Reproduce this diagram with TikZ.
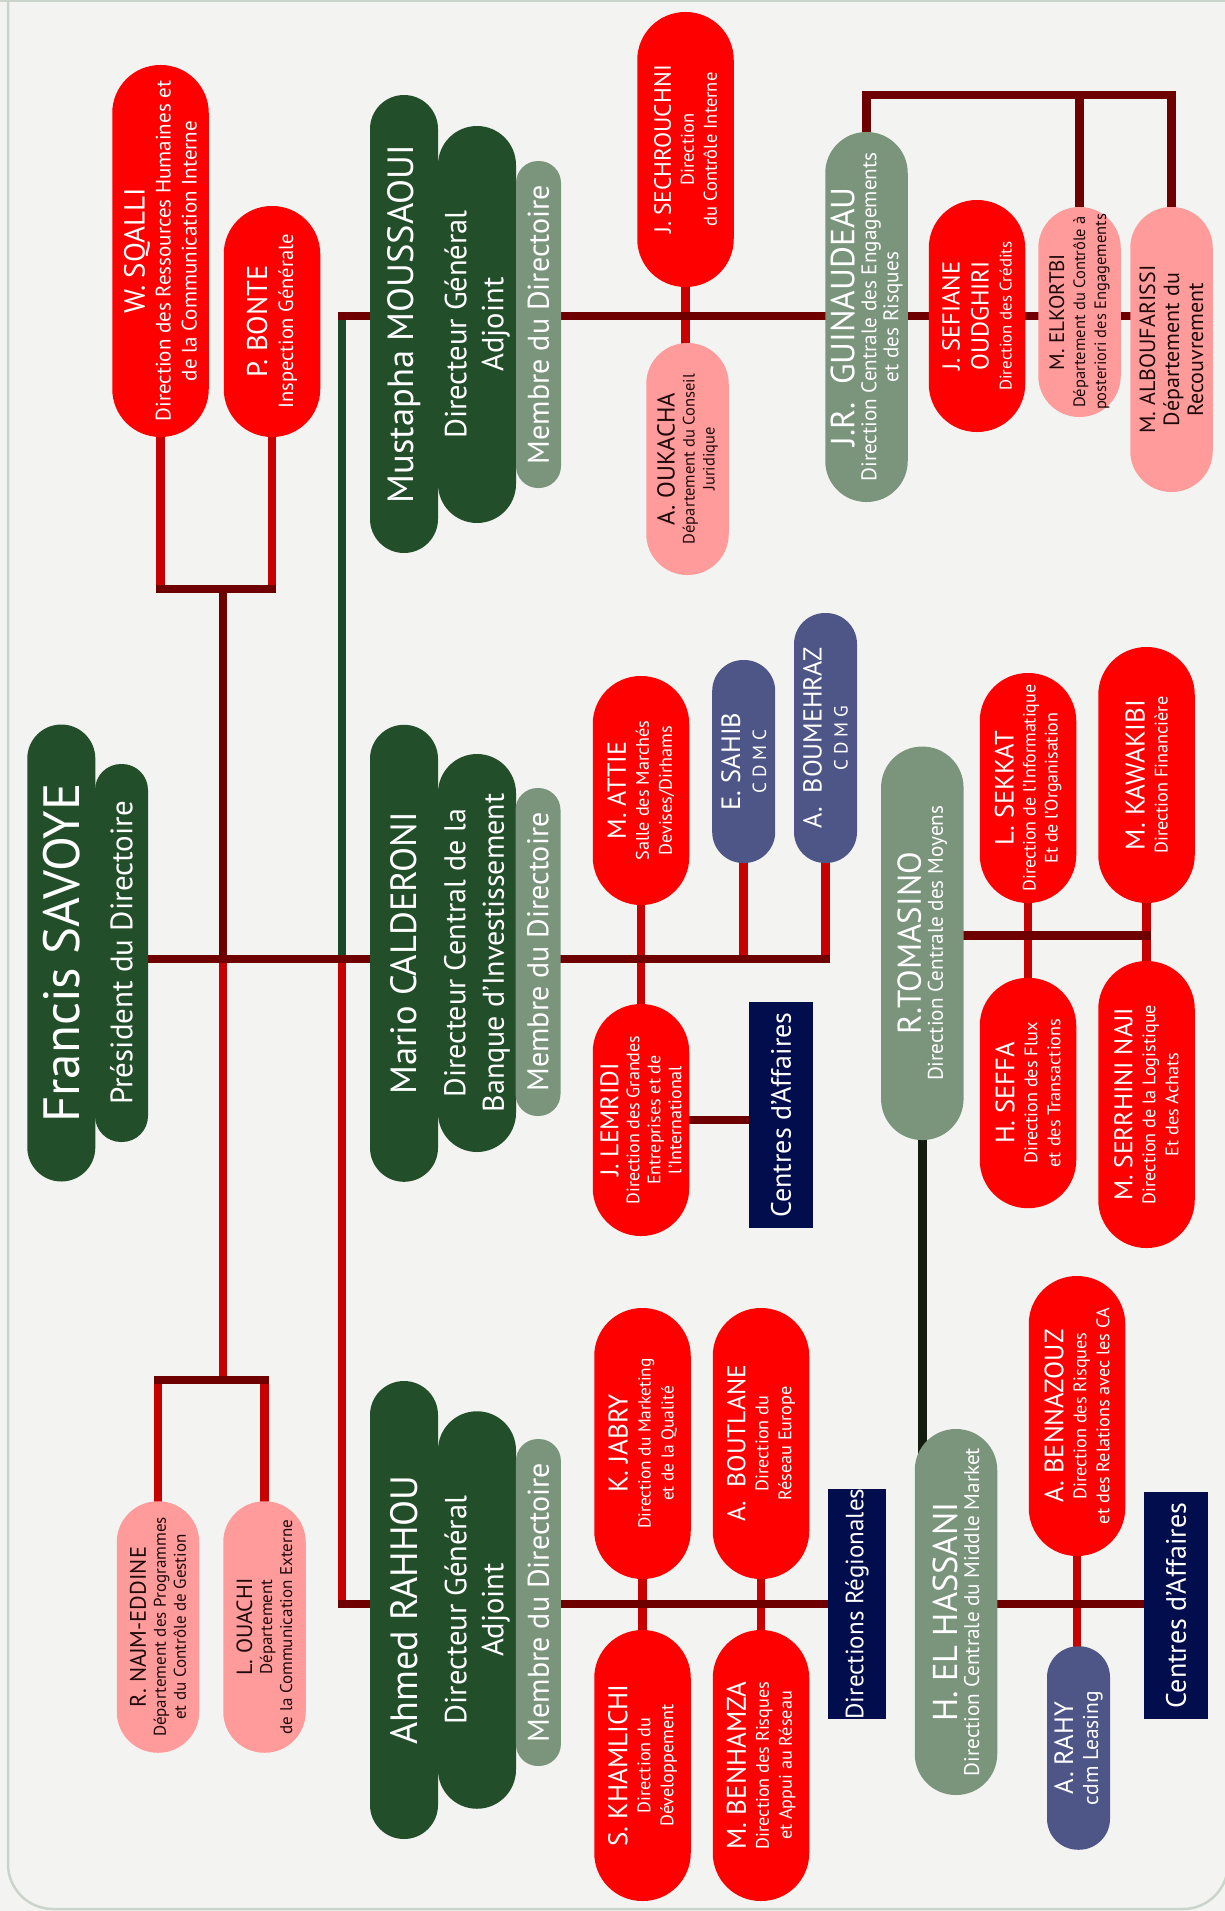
\documentclass[tikz,border=0pt]{standalone}
\usepackage{fontspec}
\setmainfont{PT Sans}
\usepackage{xcolor}
\usetikzlibrary{positioning, calc}

\definecolor{boxred}{HTML}{FF0000}
\definecolor{boxpink}{HTML}{FF9B9B}
\definecolor{boxgreen}{HTML}{234E2A}
\definecolor{boxsage}{HTML}{7A957C}
\definecolor{boxslate}{HTML}{4E5688}
\definecolor{boxnavy}{HTML}{020D4E}
\definecolor{linkdark}{HTML}{6E0000}
\definecolor{linkred}{HTML}{C80000}
\definecolor{linkgreen}{HTML}{1B4A2B}
\definecolor{linkblack}{HTML}{141C10}
\definecolor{pagebg}{HTML}{F3F4F1}
\definecolor{pageedge}{HTML}{CBD4CB}
\definecolor{inkdark}{HTML}{1E0808}

\pgfdeclarelayer{back}
\pgfsetlayers{back,main}

\newcommand{\who}[2][26]{{\fontsize{#1}{#1}\selectfont #2}}

\tikzset{
  pill/.style={rotate=90, inner sep=0pt, align=center, text=white},
  redbox/.style={pill, fill=boxred, minimum height=96.5pt, rounded corners=48pt,
    font=\fontsize{18.2}{23}\selectfont},
  pinkbox/.style={pill, fill=boxpink, text=inkdark, minimum height=82.5pt,
    rounded corners=41pt, font=\fontsize{16.5}{20}\selectfont},
  sagebox/.style={pill, fill=boxsage, minimum height=82.5pt, rounded corners=41pt,
    font=\fontsize{21.2}{22}\selectfont},
  slatebox/.style={pill, fill=boxslate, minimum height=63pt, rounded corners=31pt,
    font=\fontsize{19}{26}\selectfont},
  navybox/.style={rotate=90, inner sep=0pt, fill=boxnavy, text=white,
    minimum height=64pt, font=\fontsize{28}{30}\selectfont},
  chiefname/.style={pill, fill=boxgreen, minimum height=68pt, rounded corners=34pt,
    font=\fontsize{36.5}{40}\selectfont},
  chieftitle/.style={pill, fill=boxgreen, minimum height=78pt, rounded corners=39pt,
    font=\fontsize{30.5}{37}\selectfont},
  membre/.style={pill, fill=boxsage, minimum height=45pt, rounded corners=22pt,
    font=\fontsize{30}{31}\selectfont},
  link/.style={draw=linkdark, line width=8.5pt, line cap=rect},
  drop/.style={draw=linkred, line width=8.5pt, line cap=rect},
  greenlink/.style={draw=linkgreen, line width=8.5pt, line cap=rect},
  blacklink/.style={draw=linkblack, line width=8.5pt, line cap=rect},
}

\begin{document}
\begin{tikzpicture}[x=1pt, y=-1pt]
\useasboundingbox (0,0) rectangle (1225,1911);

% Directoire
\node[chiefname, minimum width=457pt, font=\fontsize{51}{52}\selectfont] (savA) at (61.3,953) {Francis SAVOYE};
\node[chieftitle, minimum width=378pt, minimum height=53pt, rounded corners=26pt, font=\fontsize{31}{32}\selectfont] (savB) at (121.5,953) {Président du Directoire};

\node[chiefname, minimum width=458pt] (mousA) at (404,324) {Mustapha MOUSSAOUI};
\node[chieftitle, minimum width=397pt] (mousB) at (477,324.5) {Directeur Général\\Adjoint};
\node[membre, minimum width=327pt] (mousC) at (538.5,324.5) {Membre du Directoire};

\node[chiefname, minimum width=457pt] (marioA) at (404,953.3) {Mario CALDERONI};
\node[chieftitle, minimum width=398pt, font=\fontsize{30}{38.5}\selectfont] (marioB) at (477,953) {Directeur Central de la\\Banque d’Investissement};
\node[membre, minimum width=328pt] (marioC) at (538,952) {Membre du Directoire};

\node[chiefname, minimum width=458pt, font=\fontsize{38}{40}\selectfont] (ahmA) at (404,1610) {Ahmed RAHHOU};
\node[chieftitle, minimum width=397.5pt] (ahmB) at (477,1610) {Directeur Général\\Adjoint};
\node[membre, minimum width=327pt] (ahmC) at (538.4,1602.5) {Membre du Directoire};

% Attached to the President
\node[redbox, minimum width=372pt, font=\fontsize{21}{26}\selectfont] (sqalli) at (160.5,251) {\who[29]{W. SQALLI}\\Direction des Ressources Humaines et\\de la Communication Interne};
\node[redbox, minimum width=231pt, font=\fontsize{20.5}{26}\selectfont] (bonte) at (272,321.5) {\who[28.5]{P. BONTE}\\Inspection Générale};
\node[pinkbox, minimum width=251.5pt, font=\fontsize{17}{20}\selectfont] (najm) at (158,1627) {\who[22.5]{R. NAJM-EDDINE}\\Département des Programmes\\et du Contrôle de Gestion};
\node[pinkbox, minimum width=251.5pt, font=\fontsize{17}{20}\selectfont] (ouachi) at (264.5,1627) {\who[22]{L. OUACHI}\\Département\\de la Communication Externe};

% Mustapha MOUSSAOUI
\node[redbox, minimum width=275pt, font=\fontsize{18.5}{23}\selectfont] (sech) at (685.5,149.5) {\who[23.5]{J. SECHROUCHNI}\\Direction\\du Contrôle Interne};
\node[pinkbox, minimum width=232pt] (oukacha) at (687.5,459) {\who[24.5]{A. OUKACHA}\\Département du Conseil\\Juridique};
\node[sagebox, minimum width=370pt] (guin) at (866.5,317) {\who[33.5]{J.R.~~GUINAUDEAU}\\Direction Centrale des Engagements\\et des Risques};
\node[redbox, minimum width=232pt, font=\fontsize{16.8}{23}\selectfont] (sefiane) at (977,316) {\who[24.5]{J. SEFIANE}\\[6pt]\who[24.5]{OUDGHIRI}\\Direction des Crédits};
\node[pinkbox, minimum width=210pt, font=\fontsize{16.5}{21}\selectfont] (elk) at (1079.5,312) {\who[21]{M. ELKORTBI}\\Département du Contrôle à\\posteriori des Engagements};
\node[pinkbox, minimum width=285pt, font=\fontsize{22}{24}\selectfont] (albou) at (1171.5,349.5) {M. ALBOUFARISSI\\Département du\\Recouvrement};

% Mario CALDERONI
\node[redbox, minimum width=229pt] (attie) at (641,790.5) {\who[26]{M. ATTIE}\\Salle des Marchés\\Devises/Dirhams};
\node[slatebox, minimum width=203pt] (sahib) at (743.7,761.5) {\who[26.5]{E. SAHIB}\\C~D~M~C};
\node[slatebox, minimum width=250pt] (boumehraz) at (825.5,738) {\who[26]{A.~~BOUMEHRAZ}\\C~D~M~G};
\node[redbox, minimum width=232pt, font=\fontsize{18}{21}\selectfont] (lemridi) at (641,1120) {\who[25.5]{J. LEMRIDI}\\Direction des Grandes\\Entreprises et de\\l’International};
\node[navybox, minimum width=226pt] (cda1) at (781,1115) {Centres d’Affaires};

% R.TOMASINO
\node[sagebox, minimum width=393.5pt] (tomasino) at (922.3,943.3) {\who[33]{R.TOMASINO}\\Direction Centrale des Moyens};
\node[redbox, minimum width=230pt, font=\fontsize{18}{22}\selectfont] (sekkat) at (1028,788) {\who[26.5]{L. SEKKAT}\\Direction de l’Informatique\\Et de l’Organisation};
\node[redbox, minimum width=256pt] (kawakibi) at (1146.5,775) {\who[27]{M. KAWAKIBI}\\Direction Financière};
\node[redbox, minimum width=230.4pt] (seffa) at (1028,1093) {\who[26.5]{H. SEFFA}\\Direction des Flux\\et des Transactions};
\node[redbox, minimum width=287pt] (serrhini) at (1146.5,1104.5) {\who[25.5]{M. SERRHINI NAJI}\\Direction de la Logistique\\Et des Achats};

% Ahmed RAHHOU
\node[redbox, minimum width=271pt, font=\fontsize{17.4}{23}\selectfont] (jabry) at (642.5,1443.5) {\who[27]{K. JABRY}\\Direction du Marketing\\et de la Qualité};
\node[redbox, minimum width=271pt] (boutlane) at (761,1443.5) {\who[25.5]{A.~~BOUTLANE}\\Direction du\\Réseau Europe};
\node[redbox, minimum width=271pt] (khamlichi) at (642.5,1765.5) {\who[27]{S. KHAMLICHI}\\Direction du\\Développement};
\node[redbox, minimum width=271pt] (benhamza) at (761,1765.5) {\who[27]{M. BENHAMZA}\\Direction des Risques\\et Appui au Réseau};
\node[navybox, minimum width=226pt, minimum height=58.5pt, font=\fontsize{25}{27}\selectfont] (dirreg) at (857,1604) {Directions Régionales};

% H. EL HASSANI
\node[sagebox, minimum width=366pt] (hassani) at (956,1612) {\who[34.5]{H. EL HASSANI}\\Direction Centrale du Middle Market};
\node[redbox, minimum width=280pt] (bennazouz) at (1077,1416) {\who[26.5]{A. BENNAZOUZ}\\Direction des Risques\\et des Relations avec les CA};
\node[slatebox, minimum width=203.5pt, font=\fontsize{21.5}{25}\selectfont] (rahy) at (1078.5,1748) {\who[26.5]{A. RAHY}\\cdm Leasing};
\node[navybox, minimum width=227pt] (cda2) at (1176,1605.5) {Centres d’Affaires};

\begin{pgfonlayer}{back}
% Page
\fill[pagebg] (0,0) rectangle (1225,1911);
\draw[pageedge, line width=2.5pt, rounded corners=45pt] (8,-60) rectangle (1228,1909);
\draw[pageedge, line width=3pt] (0,1) -- (1225,1);

% Junctions
\coordinate (topfork) at (223,589);
\coordinate (lowfork) at (223,1380);
\coordinate (spine) at (223,959);
\coordinate (lateral) at (342,959);
\coordinate (mousjoin) at (342,316);
\coordinate (ahmjoin) at (342,1604);
\coordinate (gfork) at ($(guin.east)+(0,-37)$);

% Vertical links
\draw[drop] (sqalli.west) |- (topfork) -| (bonte.west);
\draw[drop] (najm.east) |- (lowfork) -| (ouachi.east);
\draw[link] (topfork) -- (spine);
\draw[drop] (spine) -- (lowfork);
\draw[greenlink] (mousjoin) -- (lateral);
\draw[drop] (lateral) -- (ahmjoin);
\draw[drop] (sech.west) -- (sech.west |- oukacha.east);
\draw[link] (elk.east) -- (elk.east |- gfork);
\draw[link] (guin.east) -- (gfork) -| (albou.east);
\draw[drop] (attie.west) -- (lemridi.east);
\draw[drop] (sahib.west) -- (sahib.west |- spine);
\draw[drop] (boumehraz.west) -- (boumehraz.west |- spine);
\draw[drop] (sekkat.west) -- (seffa.east);
\draw[drop] (kawakibi.west) -- (serrhini.east);
\draw[blacklink] (tomasino.west) -- (tomasino.west |- hassani.center);
\draw[drop] (jabry.west) -- (khamlichi.east);
\draw[drop] (boutlane.west) -- (benhamza.east);
\draw[drop] (bennazouz.west) -- (bennazouz.west |- rahy.east);

% Horizontal links
\draw[link] (sqalli.west |- topfork) -- (bonte.west |- topfork);
\draw[link] (najm.east |- lowfork) -- (ouachi.east |- lowfork);
\draw[link] (savB.south |- spine) -- (boumehraz.west |- spine);
\draw[link] (mousjoin) -- (mousjoin -| albou.center);
\draw[link] (ahmjoin) -- (ahmjoin -| dirreg.center);
\draw[link] (lemridi.south) -- (lemridi.south -| cda1.north);
\draw[link] ([yshift=8pt]tomasino.south) -- ([yshift=8pt]tomasino.south -| kawakibi.west);
\draw[link] (hassani.south |- ahmjoin) -- (cda2.north |- ahmjoin);
\end{pgfonlayer}
\end{tikzpicture}
\end{document}
